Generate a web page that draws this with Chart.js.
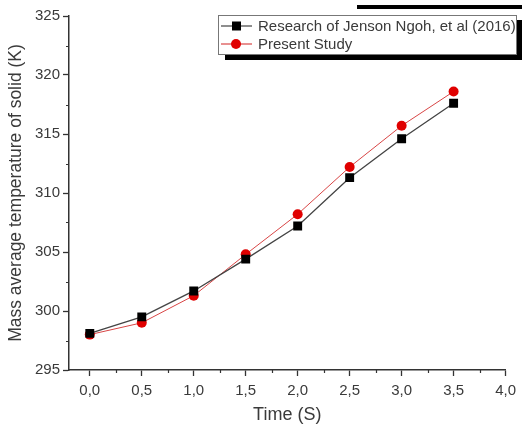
<!DOCTYPE html>
<html>
<head>
<meta charset="utf-8">
<script src="https://cdn.jsdelivr.net/npm/chart.js@4.4.1/dist/chart.umd.min.js"></script>
<style>
html,body{margin:0;padding:0;background:#fff;}
#wrap{width:522px;height:430px;position:relative;}
</style>
</head>
<body>
<div id="wrap"><canvas id="c" width="522" height="430"></canvas></div>
<script>
const times = [0.0, 0.5, 1.0, 1.5, 2.0, 2.5, 3.0, 3.5];
const researchNgoh = [298.1, 299.5, 301.7, 304.4, 307.2, 311.3, 314.6, 317.6];
const presentStudy = [298.0, 299.0, 301.3, 304.8, 308.2, 312.2, 315.7, 318.6];
const xTicks = [0, 0.5, 1.0, 1.5, 2.0, 2.5, 3.0, 3.5, 4.0];
const yTicks = [295, 300, 305, 310, 315, 320, 325];
const xMinor = [0.25, 0.75, 1.25, 1.75, 2.25, 2.75, 3.25, 3.75];
const yMinor = [297.5, 302.5, 307.5, 312.5, 317.5, 322.5];
const seriesLabels = ['Research of Jenson Ngoh, et al (2016)', 'Present Study'];

const FONT = '"Liberation Sans", Arial, sans-serif';
const TXT = '#3a3a3a';

const decor = {
  id: 'decor',
  beforeDraw(chart) {
    const ctx = chart.ctx;
    ctx.save();
    ctx.fillStyle = '#000';
    ctx.fillRect(357, 5, 165, 4);
    ctx.fillRect(225, 54, 297, 6);
    ctx.fillRect(516, 20, 6, 40);
    ctx.restore();
  },
  afterDraw(chart) {
    const ctx = chart.ctx;
    const xs = chart.scales.x, ys = chart.scales.y;
    ctx.save();
    ctx.strokeStyle = '#333';
    ctx.lineWidth = 1.2;
    ctx.beginPath();
    xMinor.forEach(v => {
      const p = Math.round(xs.getPixelForValue(v)) + 0.5;
      ctx.moveTo(p, ys.bottom); ctx.lineTo(p, ys.bottom + 3);
    });
    yMinor.forEach(v => {
      const p = Math.round(ys.getPixelForValue(v)) + 0.5;
      ctx.moveTo(xs.left, p); ctx.lineTo(xs.left - 3, p);
    });
    ctx.stroke();

    const bx = 218, by = 15, bw = 298, bh = 39;
    ctx.fillStyle = '#fff';
    ctx.fillRect(bx, by, bw, bh);
    ctx.strokeStyle = '#777';
    ctx.lineWidth = 1;
    ctx.strokeRect(bx + 0.5, by + 0.5, bw, bh);
    ctx.font = '15px ' + FONT;
    ctx.textBaseline = 'middle';
    chart.data.datasets.forEach((ds, i) => {
      const cy = by + 11 + i * 18;
      ctx.strokeStyle = ds.borderColor;
      ctx.lineWidth = 1.2;
      ctx.beginPath(); ctx.moveTo(bx + 3, cy); ctx.lineTo(bx + 34, cy); ctx.stroke();
      ctx.fillStyle = ds.pointBackgroundColor;
      if (ds.pointStyle === 'rect') {
        ctx.fillRect(bx + 14, cy - 4.5, 9, 9);
      } else {
        ctx.beginPath(); ctx.arc(bx + 18, cy, 5, 0, Math.PI * 2); ctx.fill();
      }
      ctx.fillStyle = TXT;
      ctx.fillText(ds.label, bx + 40, cy + 1);
    });
    ctx.restore();
  }
};

new Chart(document.getElementById('c'), {
  type: 'line',
  data: {
    datasets: [
      {
        label: seriesLabels[0],
        data: times.map((t, i) => ({x: t, y: researchNgoh[i]})),
        borderColor: '#444',
        borderWidth: 1.3,
        pointStyle: 'rect',
        pointRadius: 6.3,
        pointBackgroundColor: '#000',
        pointBorderColor: '#000',
        pointBorderWidth: 0,
        tension: 0
      },
      {
        label: seriesLabels[1],
        data: times.map((t, i) => ({x: t, y: presentStudy[i]})),
        borderColor: '#d84545',
        borderWidth: 1,
        pointStyle: 'circle',
        pointRadius: 5,
        pointBackgroundColor: '#e00000',
        pointBorderColor: '#e00000',
        pointBorderWidth: 0,
        tension: 0
      }
    ]
  },
  options: {
    responsive: false,
    animation: false,
    layout: {padding: {top: 16, right: 14, left: 0, bottom: 0}},
    plugins: {legend: {display: false}, tooltip: {enabled: false}},
    scales: {
      x: {
        type: 'linear',
        min: -0.2,
        max: 4.0,
        afterBuildTicks: s => { s.ticks = xTicks.map(v => ({value: v})); },
        afterFit: s => { s.height = 60; },
        ticks: {
          color: TXT,
          font: {family: FONT, size: 15},
          padding: 6,
          maxRotation: 0,
          autoSkip: false,
          callback: v => v.toFixed(1).replace('.', ',')
        },
        grid: {drawOnChartArea: false, tickLength: 6, tickColor: '#333', tickWidth: 1.3},
        border: {color: '#333', width: 1.5},
        title: {display: true, text: 'Time (S)', color: TXT, font: {family: FONT, size: 18}, padding: {top: 4}}
      },
      y: {
        min: 295,
        max: 325,
        afterBuildTicks: s => { s.ticks = yTicks.map(v => ({value: v})); },
        afterFit: s => { s.width = 69; },
        ticks: {
          color: TXT,
          font: {family: FONT, size: 15},
          padding: 3,
          autoSkip: false
        },
        grid: {drawOnChartArea: false, tickLength: 6, tickColor: '#333', tickWidth: 1.3},
        border: {color: '#333', width: 1.5},
        title: {display: true, text: 'Mass average temperature of solid (K)', color: TXT, font: {family: FONT, size: 17.5}, padding: {top: 6, bottom: 2}}
      }
    }
  },
  plugins: [decor]
});
</script>
</body>
</html>
